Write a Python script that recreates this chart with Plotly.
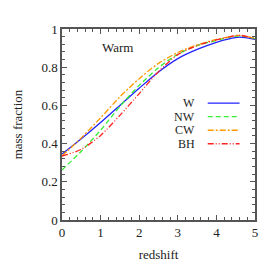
import plotly.graph_objects as go

redshift = [0, 0.5, 1, 1.5, 2, 2.5, 3, 3.5, 4, 4.3, 4.6, 5]
w_vals  = [0.345, 0.425, 0.51, 0.60, 0.69, 0.775, 0.845, 0.893, 0.93, 0.947, 0.957, 0.946]
nw_vals = [0.262, 0.36, 0.47, 0.595, 0.705, 0.797, 0.868, 0.913, 0.94, 0.955, 0.964, 0.950]
cw_vals = [0.335, 0.43, 0.535, 0.645, 0.74, 0.82, 0.877, 0.917, 0.945, 0.958, 0.967, 0.950]
bh_vals = [0.335, 0.37, 0.443, 0.548, 0.662, 0.777, 0.866, 0.913, 0.943, 0.957, 0.967, 0.950]

names = ["W", "NW", "CW", "BH"]
colors = ["#2222ff", "#33ee33", "#ff9900", "#ff2222"]
dashes = ["solid", "5px,3px", "6px,2px,2px,2px", "6px,2px,1px,2px,1px,2px"]
series = [w_vals, nw_vals, cw_vals, bh_vals]

x_ticks = [0, 1, 2, 3, 4, 5]
y_ticks = [0, 0.2, 0.4, 0.6, 0.8, 1]
y_tick_labels = ["0", "0.2", "0.4", "0.6", "0.8", "1"]

FONT = "Liberation Serif"

fig = go.Figure()
for name, vals, col, dash in zip(names, series, colors, dashes):
    fig.add_trace(go.Scatter(x=redshift, y=vals, mode="lines", name=name,
                             line=dict(color=col, width=1.3, dash=dash, shape="spline", smoothing=0.8),
                             showlegend=False, hoverinfo="skip"))

# gnuplot-style key: right-aligned text, sample line to the right
key_top = 0.612
key_step = 0.071
for i, (name, col, dash) in enumerate(zip(names, colors, dashes)):
    yk = key_top - i * key_step
    fig.add_annotation(x=0.70, y=yk, xref="paper", yref="paper", text=name,
                       showarrow=False, xanchor="right", yanchor="middle",
                       font=dict(family=FONT, size=12, color="#222"))
    fig.add_shape(type="line", xref="paper", yref="paper", x0=0.755, x1=0.92, y0=yk, y1=yk,
                  line=dict(color=col, width=1.4, dash=dash))

fig.add_annotation(x=0.29, y=0.905, xref="paper", yref="paper", text="Warm",
                   showarrow=False, xanchor="center", yanchor="middle",
                   font=dict(family=FONT, size=13, color="#222"))

axis_common = dict(showline=True, mirror="allticks", linecolor="#555", linewidth=1.5,
                   ticks="inside", ticklen=5, tickwidth=1, tickcolor="#555",
                   showgrid=False, zeroline=False,
                   tickfont=dict(family=FONT, size=13, color="#222"))

fig.update_xaxes(range=[0, 5], tickvals=x_ticks,
                 minor=dict(ticks="inside", dtick=0.2, ticklen=3, tickcolor="#555", showgrid=False),
                 title=dict(text="redshift", font=dict(family=FONT, size=13, color="#222"), standoff=11),
                 **axis_common)
fig.update_yaxes(range=[0, 1], tickvals=y_ticks, ticktext=y_tick_labels,
                 minor=dict(ticks="inside", dtick=0.04, ticklen=3, tickcolor="#555", showgrid=False),
                 title=dict(text="mass fraction", font=dict(family=FONT, size=13, color="#222"), standoff=16),
                 **axis_common)

fig.update_layout(width=274, height=274, margin=dict(l=62, r=19, t=29, b=54),
                  plot_bgcolor="white", paper_bgcolor="white", showlegend=False)

fig.write_html("out.html", config={"displayModeBar": False},
               post_script="document.body.style.margin='0px';")
